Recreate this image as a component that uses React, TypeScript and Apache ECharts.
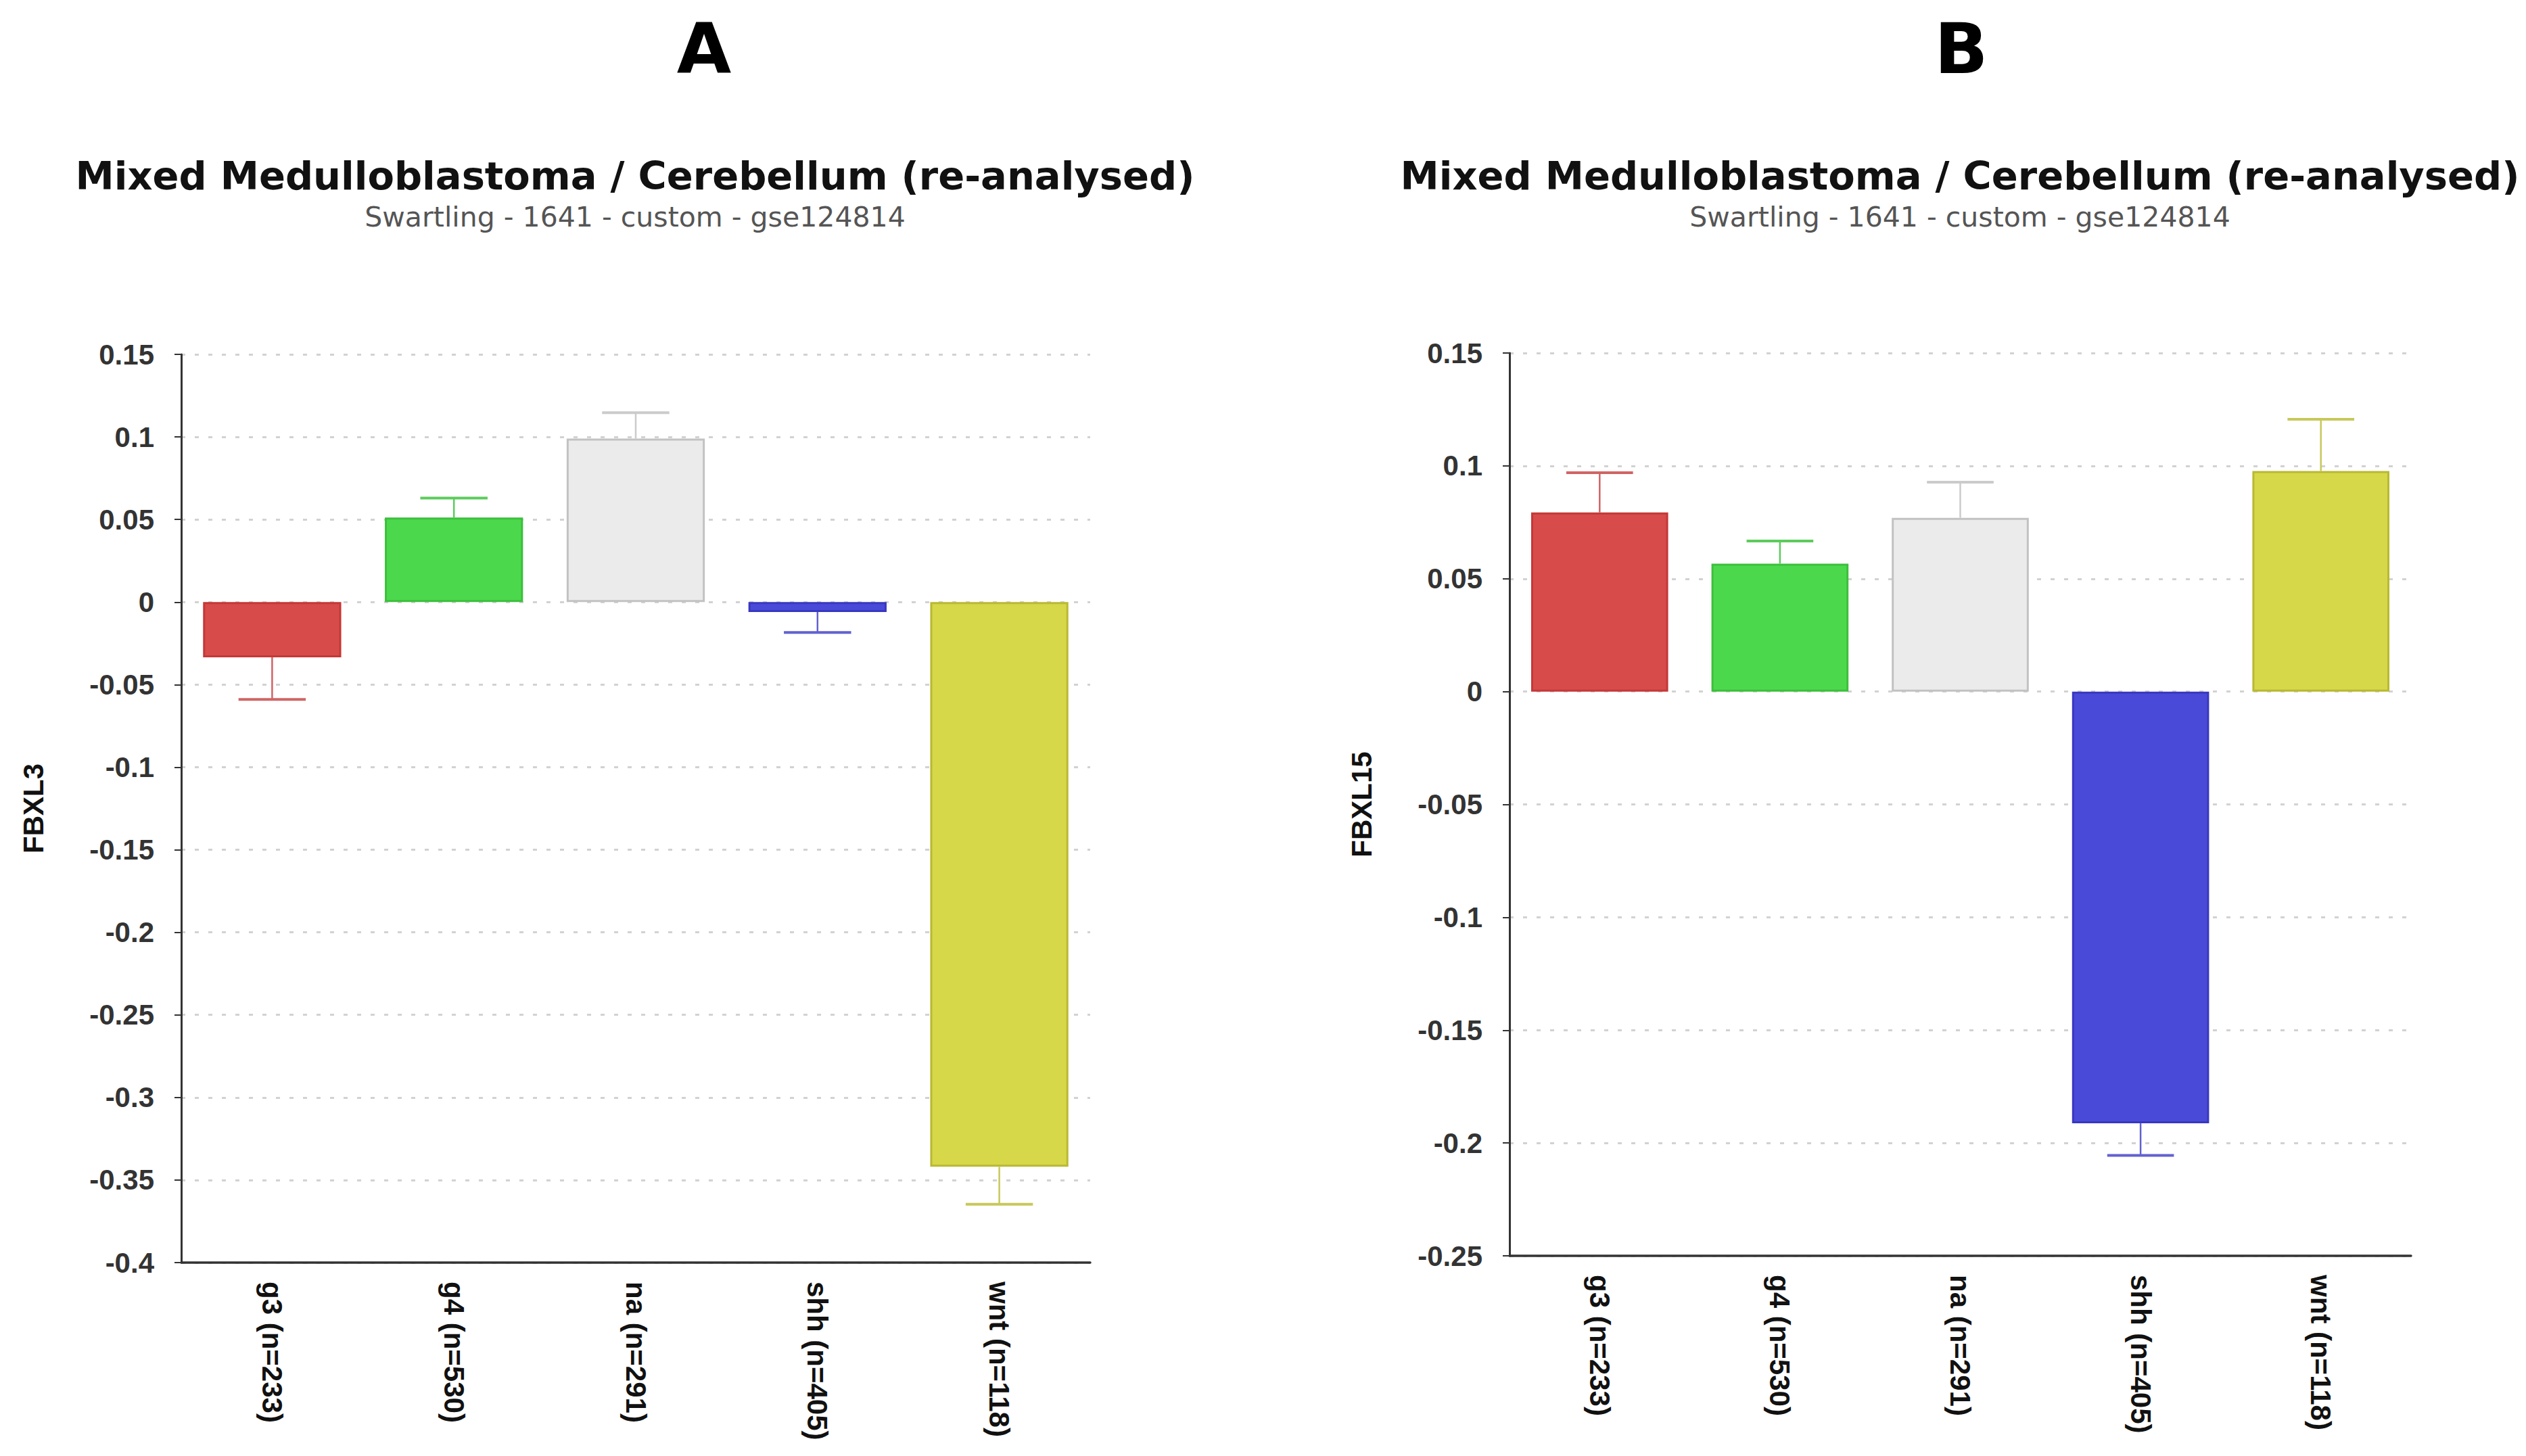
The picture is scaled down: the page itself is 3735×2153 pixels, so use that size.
import React, { useEffect, useRef } from "react";
import * as echarts from "echarts";

const categories = ["g3 (n=233)", "g4 (n=530)", "na (n=291)", "shh (n=405)", "wnt (n=118)"];
const fbxl3Mean = [-0.0335, 0.0512, 0.099, -0.006, -0.342];
const fbxl3Se = [0.0255, 0.0118, 0.0157, 0.0124, 0.0227];
const fbxl15Mean = [0.0794, 0.0567, 0.077, -0.1913, 0.0977];
const fbxl15Se = [0.0176, 0.01, 0.0158, 0.0142, 0.0229];
const yTicksA = { min: -0.4, max: 0.15, interval: 0.05 };
const yTicksB = { min: -0.25, max: 0.15, interval: 0.05 };
const panelLetters = ["A", "B"];
const titleText = "Mixed Medulloblastoma / Cerebellum (re-analysed)";
const subtitleText = "Swartling - 1641 - custom - gse124814";
const geneNames = ["FBXL3", "FBXL15"];

const fillColors = ["#D84B4B", "#4CD84C", "#EBEBEB", "#4A4AD8", "#D7D74A"];
const borderColors = ["#C43838", "#3CBF3C", "#C2C2C2", "#3838C0", "#B9B934"];
const errColors = ["#D06464", "#5CCB5C", "#CBCBCB", "#6262D0", "#C8C85A"];

const W = 3735;
const H = 2153;

function buildPanel(idx: number, means: number[], ses: number[], yt: { min: number; max: number; interval: number }) {
  const labelFont = "Liberation Sans, Arial, sans-serif";
  const xAxis = {
    type: "category",
    gridIndex: idx,
    data: categories,
    position: "bottom",
    axisLine: { onZero: false, lineStyle: { color: "#333", width: 3.5 } },
    axisTick: { alignWithLabel: true, length: 8, lineStyle: { color: "#333", width: 2 } },
    axisLabel: {
      rotate: -90,
      margin: 28,
      fontSize: 42,
      fontWeight: "bold",
      color: "#111",
      fontFamily: labelFont,
    },
    splitLine: { show: false },
  };
  const yAxis = {
    type: "value",
    gridIndex: idx,
    min: yt.min,
    max: yt.max,
    interval: yt.interval,
    name: geneNames[idx],
    nameLocation: "middle",
    nameGap: 198,
    nameTextStyle: { fontSize: 42, fontWeight: "bold", color: "#111", fontFamily: labelFont },
    axisLine: { show: true, lineStyle: { color: "#333", width: 3 } },
    axisTick: { show: true, length: 10, lineStyle: { color: "#333", width: 2 } },
    axisLabel: {
      margin: 40,
      fontSize: 42,
      fontWeight: "bold",
      color: "#333",
      fontFamily: labelFont,
      formatter: (v: number) => String(Math.round(v * 100) / 100),
    },
    splitLine: { show: true, lineStyle: { color: "#d2d2d2", width: 3, type: [6, 14] } },
  };
  const barSeries = {
    type: "bar",
    xAxisIndex: idx,
    yAxisIndex: idx,
    barWidth: "76%",
    data: means.map((v, i) => ({
      value: v,
      itemStyle: { color: fillColors[i], borderColor: borderColors[i], borderWidth: 3 },
    })),
  };
  const errSeries = {
    type: "custom",
    xAxisIndex: idx,
    yAxisIndex: idx,
    data: means.map((v, i) => [i, v, v + (v >= 0 ? ses[i] : -ses[i])]),
    renderItem: (params: any, api: any) => {
      const x = api.value(0);
      const p1 = api.coord([x, api.value(1)]);
      const p2 = api.coord([x, api.value(2)]);
      const band = api.size([1, 0])[0];
      const hw = band * 0.185;
      const c = errColors[params.dataIndex];
      return {
        type: "group",
        children: [
          { type: "line", shape: { x1: p1[0], y1: p1[1], x2: p2[0], y2: p2[1] }, style: { stroke: c, lineWidth: 2.5 } },
          { type: "line", shape: { x1: p2[0] - hw, y1: p2[1], x2: p2[0] + hw, y2: p2[1] }, style: { stroke: c, lineWidth: 4 } },
        ],
      };
    },
    z: 5,
  };
  return { xAxis, yAxis, series: [barSeries, errSeries] };
}

export default function App() {
  const ref = useRef<HTMLDivElement>(null);
  useEffect(() => {
    document.body.style.margin = "0";
    if (!ref.current) return;
    const chart = echarts.init(ref.current, undefined, { renderer: "svg" });
    const a = buildPanel(0, fbxl3Mean, fbxl3Se, yTicksA);
    const b = buildPanel(1, fbxl15Mean, fbxl15Se, yTicksB);
    const titleFont = "DejaVu Sans, Verdana, sans-serif";
    const headerCenters = [1041, 2900];
    const graphic: any[] = [];
    headerCenters.forEach((cx, i) => {
      graphic.push({
        type: "text",
        x: cx,
        y: 72,
        style: { text: panelLetters[i], fontSize: 104, fontWeight: "bold", fontFamily: titleFont, fill: "#000", align: "center", verticalAlign: "middle" },
      });
      graphic.push({
        type: "text",
        x: i === 0 ? 939 : 2898,
        y: 260,
        style: { text: titleText, fontSize: 57.5, fontWeight: "bold", fontFamily: titleFont, fill: "#111", align: "center", verticalAlign: "middle" },
      });
      graphic.push({
        type: "text",
        x: i === 0 ? 939 : 2898,
        y: 321,
        style: { text: subtitleText, fontSize: 41, fontFamily: titleFont, fill: "#555", align: "center", verticalAlign: "middle" },
      });
    });
    chart.setOption({
      animation: false,
      backgroundColor: "#fff",
      grid: [
        { left: 268, top: 524, width: 1344, height: 1343 },
        { left: 2232, top: 522, width: 1333, height: 1335 },
      ],
      xAxis: [a.xAxis, b.xAxis],
      yAxis: [a.yAxis, b.yAxis],
      series: [...a.series, ...b.series],
      graphic,
    } as any);
    return () => chart.dispose();
  }, []);
  return <div ref={ref} style={{ width: W, height: H }} />;
}
